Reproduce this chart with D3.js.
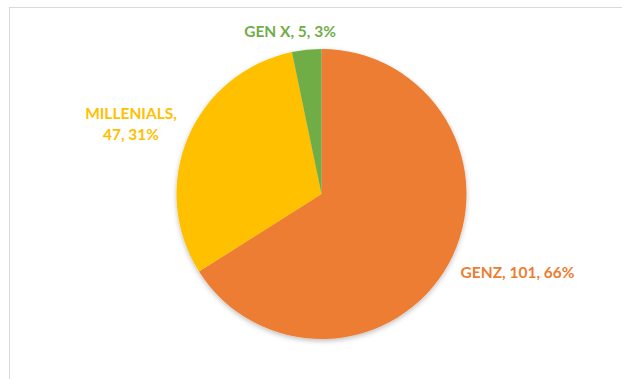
<!DOCTYPE html>
<html>
<head>
<meta charset="utf-8">
<script src="https://cdn.jsdelivr.net/npm/d3@7"></script>
<style>
  html, body { margin: 0; padding: 0; background: #fff; }
  svg { display: block; }
</style>
</head>
<body>
<svg id="chart" width="622" height="379"></svg>
<script>
// Respondents by generation
const categories = ["GENZ", "MILLENIALS", "GEN X"];
const values = [101, 47, 5];
const colors = ["#ED7D31", "#FFC000", "#70AD47"];

const svg = d3.select("#chart");
const W = 622, H = 379;

// chart area frame (runs off the right and bottom edges)
svg.append("rect")
  .attr("x", 9.5).attr("y", 7.5)
  .attr("width", W).attr("height", H)
  .attr("fill", "#fff")
  .attr("stroke", "#d9d9d9")
  .attr("stroke-width", 1);

// soft shadow under the pie
const defs = svg.append("defs");
const f = defs.append("filter").attr("id", "shadow")
  .attr("x", "-20%").attr("y", "-20%").attr("width", "140%").attr("height", "140%");
f.append("feDropShadow")
  .attr("dx", 0).attr("dy", 2).attr("stdDeviation", 2.5)
  .attr("flood-color", "#000").attr("flood-opacity", 0.25);

const cx = 321.5, cy = 194, r = 145;
const total = d3.sum(values);

const pie = d3.pie().sort(null).value(d => d.value);
const arcs = pie(categories.map((c, i) => ({ name: c, value: values[i], color: colors[i] })));
const arc = d3.arc().innerRadius(0).outerRadius(r);

const g = svg.append("g").attr("transform", `translate(${cx},${cy})`);
g.append("g").attr("filter", "url(#shadow)")
  .selectAll("path").data(arcs).join("path")
  .attr("d", arc)
  .attr("fill", d => d.data.color);

// data labels: name, value, percent
const pct = v => Math.round(v / total * 100) + "%";
const labelPos = {
  "GENZ":       { x: 517.5, y: 272, lines: d => [`${d.name}, ${d.value}, ${pct(d.value)}`] },
  "MILLENIALS": { x: 131, y: 113, lines: d => [`${d.name},`, `${d.value}, ${pct(d.value)}`] },
  "GEN X":      { x: 290, y: 31,  lines: d => [`${d.name}, ${d.value}, ${pct(d.value)}`] }
};

arcs.forEach(a => {
  const p = labelPos[a.data.name];
  const t = svg.append("text")
    .attr("x", p.x).attr("y", p.y)
    .attr("text-anchor", "middle")
    .attr("dominant-baseline", "central")
    .attr("fill", a.data.color)
    .style("font-family", "Lato, 'Open Sans', sans-serif")
    .style("font-weight", "bold")
    .style("font-size", "15.5px");
  p.lines(a.data).forEach((line, i) => {
    t.append("tspan").attr("x", p.x).attr("dy", i === 0 ? 0 : 21).text(line);
  });
});
</script>
</body>
</html>
